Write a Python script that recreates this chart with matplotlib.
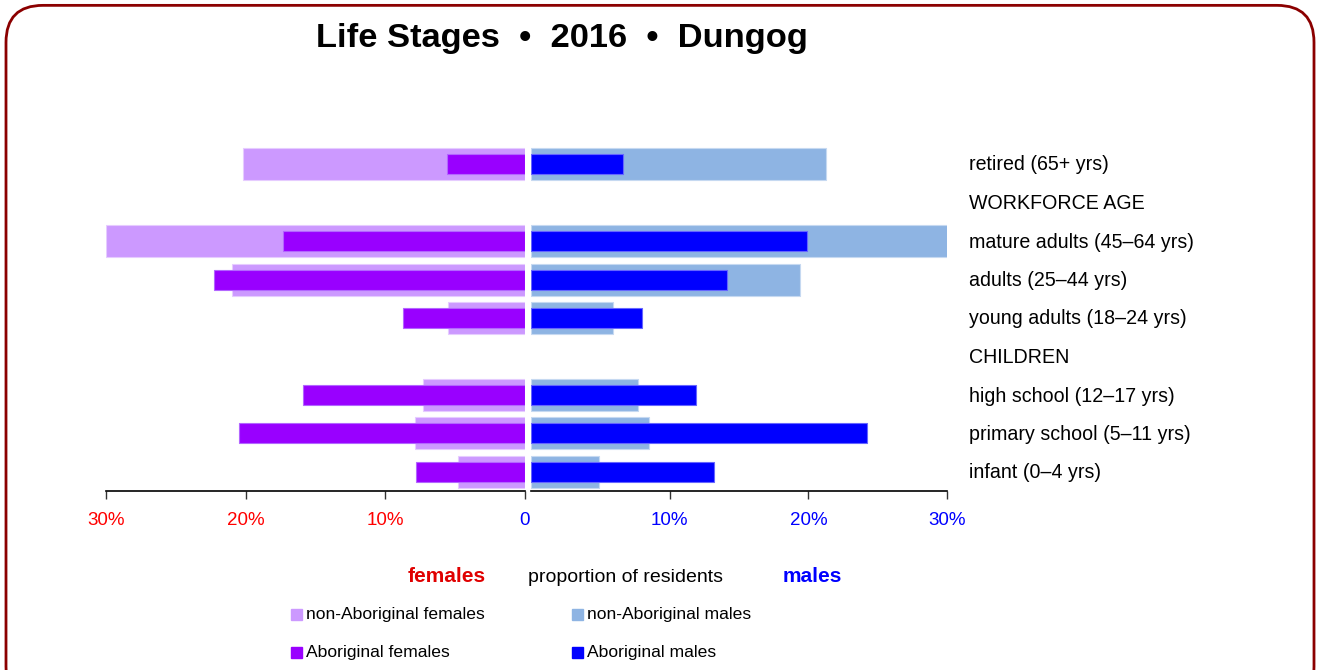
import matplotlib
matplotlib.use("Agg")
import matplotlib.pyplot as plt
from matplotlib.patches import FancyBboxPatch, Rectangle

# rows from top to bottom; headings have no bars
rows = ["retired (65+ yrs)", "WORKFORCE AGE", "mature adults (45\u201364 yrs)",
        "adults (25\u201344 yrs)", "young adults (18\u201324 yrs)", "CHILDREN",
        "high school (12\u201317 yrs)", "primary school (5\u201311 yrs)", "infant (0\u20134 yrs)"]
groups = ["retired (65+ yrs)", "mature adults (45\u201364 yrs)", "adults (25\u201344 yrs)",
          "young adults (18\u201324 yrs)", "high school (12\u201317 yrs)",
          "primary school (5\u201311 yrs)", "infant (0\u20134 yrs)"]

# percent of residents
non_ab_females = [20.2, 30.0, 21.0, 5.5, 7.3, 7.9, 4.8]
ab_females = [5.6, 17.3, 22.3, 8.7, 15.9, 20.5, 7.8]
non_ab_males = [21.3, 30.2, 19.4, 5.9, 7.7, 8.5, 4.9]
ab_males = [6.6, 19.9, 14.1, 8.0, 11.9, 24.2, 13.2]

ticks = [0, 10, 20, 30]

c_naf = "#cc99ff"
c_af = "#9900ff"
c_nam = "#8eb4e3"
c_am = "#0000ff"

plt.rcParams['font.family'] = ['Liberation Sans', 'DejaVu Sans']

W, H = 1320.0, 670.0
fig = plt.figure(figsize=(13.2, 6.7), dpi=100)

# rounded frame
frame = FancyBboxPatch((6 / W, -0.05), 1308 / W, 1.042, transform=fig.transFigure,
                       boxstyle="round,pad=0,rounding_size=0.028", fill=False,
                       edgecolor="#8b0000", linewidth=2, mutation_aspect=W / H)
fig.patches.append(frame)

ax_l = fig.add_axes([106 / W, (H - 491) / H, (525 - 106) / W, (491 - 145) / H])
ax_r = fig.add_axes([531 / W, (H - 491) / H, (947 - 531) / W, (491 - 145) / H])

n = len(rows)
ypos = [n - 1 - rows.index(g) for g in groups]

wide, narrow = 0.83, 0.52
ax_l.barh(ypos, non_ab_females, height=wide, color=c_naf, edgecolor="#e6ccff", linewidth=0.8)
ax_l.barh(ypos, ab_females, height=narrow, color=c_af, edgecolor="#b366ff", linewidth=0.8)
ax_r.barh(ypos, non_ab_males, height=wide, color=c_nam, edgecolor="#c6d9f1", linewidth=0.8)
ax_r.barh(ypos, ab_males, height=narrow, color=c_am, edgecolor="#6666ff", linewidth=0.8)

for ax in (ax_l, ax_r):
    ax.set_xlim(0, 30)
    ax.set_ylim(-0.5, n - 0.5)
    ax.set_yticks([])
    for s in ("top", "left", "right"):
        ax.spines[s].set_visible(False)
    ax.spines["bottom"].set_linewidth(1.2)
    ax.tick_params(axis="x", direction="out", length=6, width=1, labelsize=13.5, pad=9,
                   color="#333333")
ax_l.invert_xaxis()

ax_l.set_xticks(ticks)
ax_l.set_xticklabels(["0" if t == 0 else f"{t}%" for t in ticks])
for lab, t in zip(ax_l.get_xticklabels(), ticks):
    lab.set_color("#0000ff" if t == 0 else "#ff0000")
ax_r.set_xticks(ticks[1:])
ax_r.set_xticklabels([f"{t}%" for t in ticks[1:]], color="#0000ff")

for i, r in enumerate(rows):
    fig.text(969 / W, 1 - (165 + i * 38.5) / H, r, fontsize=14.1, va="center", ha="left")

fig.text(562 / W, 1 - 39 / H, "Life Stages  \u2022  2016  \u2022  Dungog",
         fontsize=24.8, fontweight="bold", ha="center", va="center")

fig.text(447 / W, 1 - 577 / H, "females", color="#e00000", fontsize=15, fontweight="bold",
         ha="center", va="center")
fig.text(626 / W, 1 - 577 / H, "proportion of residents", fontsize=14, ha="center", va="center")
fig.text(812 / W, 1 - 577 / H, "males", color="#0000ff", fontsize=15, fontweight="bold",
         ha="center", va="center")

legend_items = [("non-Aboriginal females", c_naf, 291, 615), ("Aboriginal females", c_af, 291, 653),
                ("non-Aboriginal males", c_nam, 572, 615), ("Aboriginal males", c_am, 572, 653)]
for name, col, x, y in legend_items:
    fig.patches.append(Rectangle((x / W, 1 - (y + 5) / H), 11 / W, 11 / H,
                                 transform=fig.transFigure, color=col))
    fig.text((x + 15) / W, 1 - y / H, name, fontsize=12.6, ha="left", va="center")

fig.savefig("out.png", dpi=100)
